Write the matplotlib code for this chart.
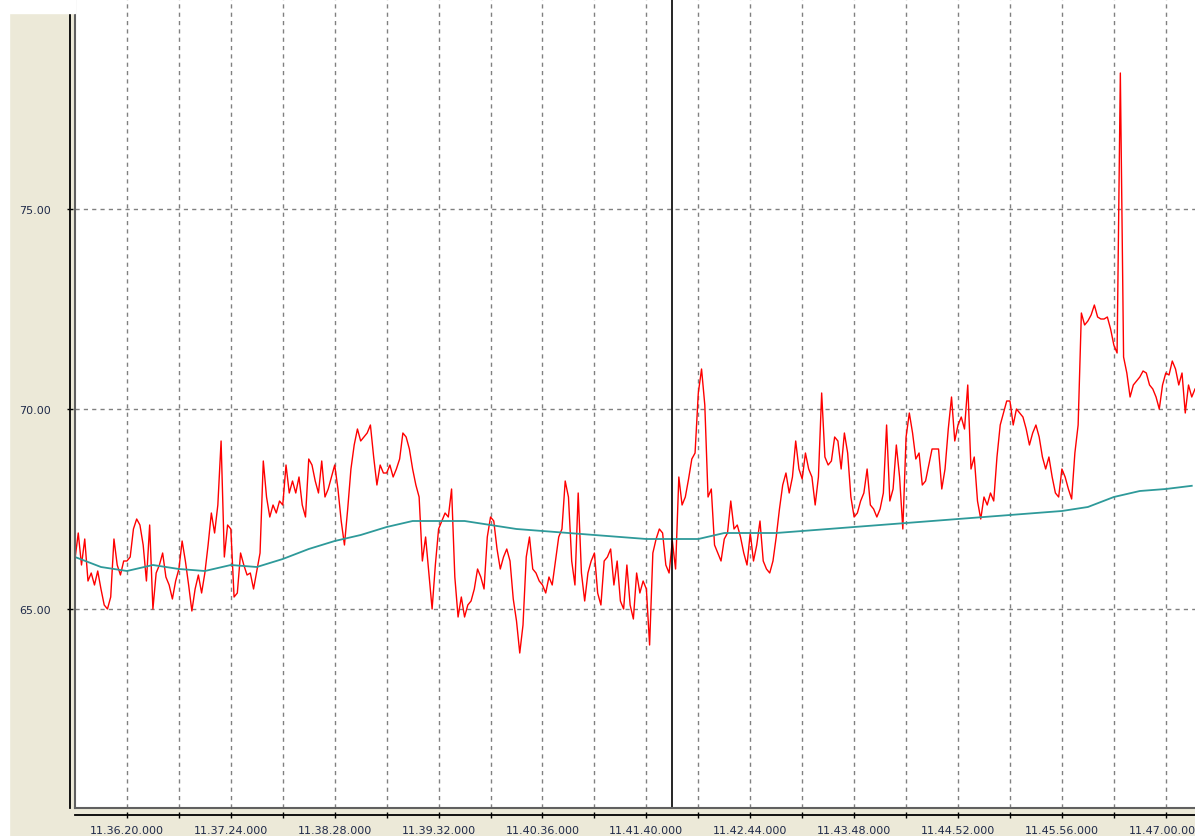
import matplotlib
matplotlib.use("Agg")
import matplotlib.pyplot as plt
import numpy as np
from matplotlib.lines import Line2D
from matplotlib.patches import Rectangle

# red trace, one sample every 2 s starting at 11.35.48
red_step = 2
red_values = [
    66.25, 66.9, 66.1, 66.75, 65.7, 65.9, 65.6, 65.95, 65.5, 65.1, 65.0, 65.3, 66.75, 66.1, 65.85, 66.2,
    66.2, 66.3, 67.0, 67.25, 67.1, 66.6, 65.7, 67.1, 65.0, 65.9, 66.1, 66.4, 65.8, 65.6, 65.25, 65.7,
    66.0, 66.7, 66.2, 65.6, 64.95, 65.5, 65.85, 65.4, 65.9, 66.6, 67.4, 66.9, 67.6, 69.2, 66.3, 67.1,
    67.0, 65.3, 65.4, 66.4, 66.1, 65.85, 65.9, 65.5, 65.95, 66.4, 68.7, 67.8, 67.3, 67.6, 67.4, 67.7,
    67.6, 68.6, 67.9, 68.2, 67.9, 68.3, 67.6, 67.3, 68.75, 68.6, 68.2, 67.9, 68.7, 67.8, 68.0, 68.3,
    68.6, 68.0, 67.2, 66.6, 67.5, 68.5, 69.1, 69.5, 69.2, 69.3, 69.4, 69.6, 68.8, 68.1, 68.6, 68.4,
    68.4, 68.6, 68.3, 68.5, 68.75, 69.4, 69.3, 69.0, 68.5, 68.1, 67.8, 66.2, 66.8, 65.9, 65.0, 66.1,
    67.0, 67.2, 67.4, 67.3, 68.0, 65.8, 64.8, 65.3, 64.8, 65.1, 65.2, 65.5, 66.0, 65.8, 65.5, 66.8,
    67.3, 67.2, 66.5, 66.0, 66.3, 66.5, 66.2, 65.25, 64.7, 63.9, 64.6, 66.3, 66.8, 66.0, 65.9, 65.7,
    65.6, 65.4, 65.8, 65.6, 66.2, 66.8, 67.0, 68.2, 67.8, 66.2, 65.6, 67.9, 65.9, 65.2, 65.9, 66.2,
    66.4, 65.4, 65.1, 66.2, 66.3, 66.5, 65.6, 66.2, 65.2, 65.0, 66.1, 65.1, 64.75, 65.9, 65.4, 65.7,
    65.5, 64.1, 66.4, 66.75, 67.0, 66.9, 66.1, 65.9, 66.7, 66.0, 68.3, 67.6, 67.8, 68.25, 68.75, 68.9,
    70.4, 71.0, 70.1, 67.8, 68.0, 66.6, 66.4, 66.2, 66.75, 66.9, 67.7, 67.0, 67.1, 66.8, 66.4, 66.1,
    66.9, 66.2, 66.6, 67.2, 66.2, 66.0, 65.9, 66.2, 66.8, 67.5, 68.1, 68.4, 67.9, 68.3, 69.2, 68.5,
    68.25, 68.9, 68.5, 68.3, 67.6, 68.3, 70.4, 68.8, 68.6, 68.7, 69.3, 69.2, 68.5, 69.4, 68.9, 67.8,
    67.3, 67.4, 67.7, 67.9, 68.5, 67.6, 67.5, 67.3, 67.5, 67.9, 69.6, 67.7, 68.0, 69.1, 68.3, 67.0,
    69.3, 69.9, 69.4, 68.75, 68.9, 68.1, 68.2, 68.6, 69.0, 69.0, 69.0, 68.0, 68.5, 69.5, 70.3, 69.2,
    69.6, 69.8, 69.5, 70.6, 68.5, 68.8, 67.7, 67.25, 67.8, 67.6, 67.9, 67.7, 68.8, 69.6, 69.9, 70.2,
    70.2, 69.6, 70.0, 69.9, 69.8, 69.5, 69.1, 69.4, 69.6, 69.3, 68.8, 68.5, 68.8, 68.3, 67.9, 67.8,
    68.5, 68.3, 68.0, 67.75, 68.9, 69.6, 72.4, 72.1, 72.2, 72.35, 72.6, 72.3, 72.25, 72.25, 72.3, 72.0,
    71.6, 71.4, 78.4, 71.3, 70.9, 70.3, 70.6, 70.7, 70.8, 70.95, 70.9, 70.6, 70.5, 70.3, 70.0, 70.6,
    70.9, 70.85, 71.2, 71.0, 70.6, 70.9, 69.9, 70.6, 70.3, 70.5,
]

# teal average, one sample every 16 s
avg_step = 16
avg_values = [
    66.3, 66.05, 65.95, 66.1, 66.0, 65.95, 66.1, 66.05, 66.25, 66.5, 66.7,
    66.85, 67.05, 67.2, 67.2, 67.2, 67.1, 67.0, 66.95, 66.9, 66.85, 66.8,
    66.75, 66.75, 66.75, 66.9, 66.9, 66.9, 66.95, 67.0, 67.05, 67.1, 67.15,
    67.2, 67.25, 67.3, 67.35, 67.4, 67.45, 67.55, 67.8, 67.95, 68.0, 68.08,
]

cursor_time = 368

y_ticks = [65, 70, 75]
x_major = [32, 96, 160, 224, 288, 352, 416, 480, 544, 608, 672]
x_minor = [64, 128, 192, 256, 320, 384, 448, 512, 576, 640]
x_labels = ["11.36.20.000", "11.37.24.000", "11.38.28.000", "11.39.32.000",
            "11.40.36.000", "11.41.40.000", "11.42.44.000", "11.43.48.000",
            "11.44.52.000", "11.45.56.000", "11.47.00.000"]


def main():
    plt.rcParams['font.family'] = ['DejaVu Sans']
    plt.rcParams['lines.scale_dashes'] = False

    W, H = 1195, 837
    beige = '#ECE9D8'
    label_color = '#1f2a4a'

    fig = plt.figure(figsize=(W / 100, H / 100), dpi=100, facecolor=beige)
    fig.patches.append(Rectangle((0, 0), 9 / W, 1, transform=fig.transFigure,
                                 color='white', zorder=0))
    fig.patches.append(Rectangle((0, 1 - 14 / H), 75 / W, 14 / H,
                                 transform=fig.transFigure, color='white', zorder=0))

    ax = fig.add_axes([75 / W, 28 / H, 1120 / W, 809 / H])
    ax.set_facecolor('white')

    t_red = np.arange(len(red_values)) * red_step
    t_avg = np.arange(len(avg_values)) * avg_step

    ax.plot(t_red, red_values, color='#FF0000', lw=1.0, zorder=3)
    ax.plot(t_avg, avg_values, color='#2E9A9A', lw=1.3, zorder=4)
    ax.axvline(cursor_time, color='black', lw=1.2, zorder=5)

    ax.set_xlim(0, 690)
    ax.set_ylim(60.025, 80.25)

    ax.set_yticks(y_ticks)
    ax.set_yticklabels([f"{v:.2f}" for v in y_ticks])
    ax.set_xticks(x_major)
    ax.set_xticklabels(x_labels)
    ax.set_xticks(x_minor, minor=True)

    ax.tick_params(axis='y', direction='inout', length=3.8, width=1,
                   color='black', pad=12, labelsize=8, labelcolor=label_color)
    ax.tick_params(axis='x', which='both', direction='inout', length=3.8,
                   width=1, color='black', pad=5, labelsize=8,
                   labelcolor=label_color)

    ax.grid(True, axis='x', which='both', color='#808080', lw=1,
            linestyle=(0, (3, 3)))
    ax.grid(True, axis='y', which='major', color='#808080', lw=1,
            linestyle=(0, (3, 3)))
    ax.set_axisbelow(True)

    for side in ['top', 'right']:
        ax.spines[side].set_visible(False)
    ax.spines['left'].set_position(('outward', 3.6))
    ax.spines['bottom'].set_position(('outward', 5.0))
    ax.spines['left'].set_linewidth(1.3)
    ax.spines['bottom'].set_linewidth(1.3)

    # inner grey frame lines
    ax.add_line(Line2D([0, 0], [0, 1], transform=ax.transAxes,
                       color='#606060', lw=1.5, clip_on=False, zorder=6))
    ax.add_line(Line2D([0, 1], [0, 0], transform=ax.transAxes,
                       color='#606060', lw=1.5, clip_on=False, zorder=6))

    fig.savefig('out.png', dpi=100, facecolor=fig.get_facecolor())


if __name__ == "__main__":
    main()
